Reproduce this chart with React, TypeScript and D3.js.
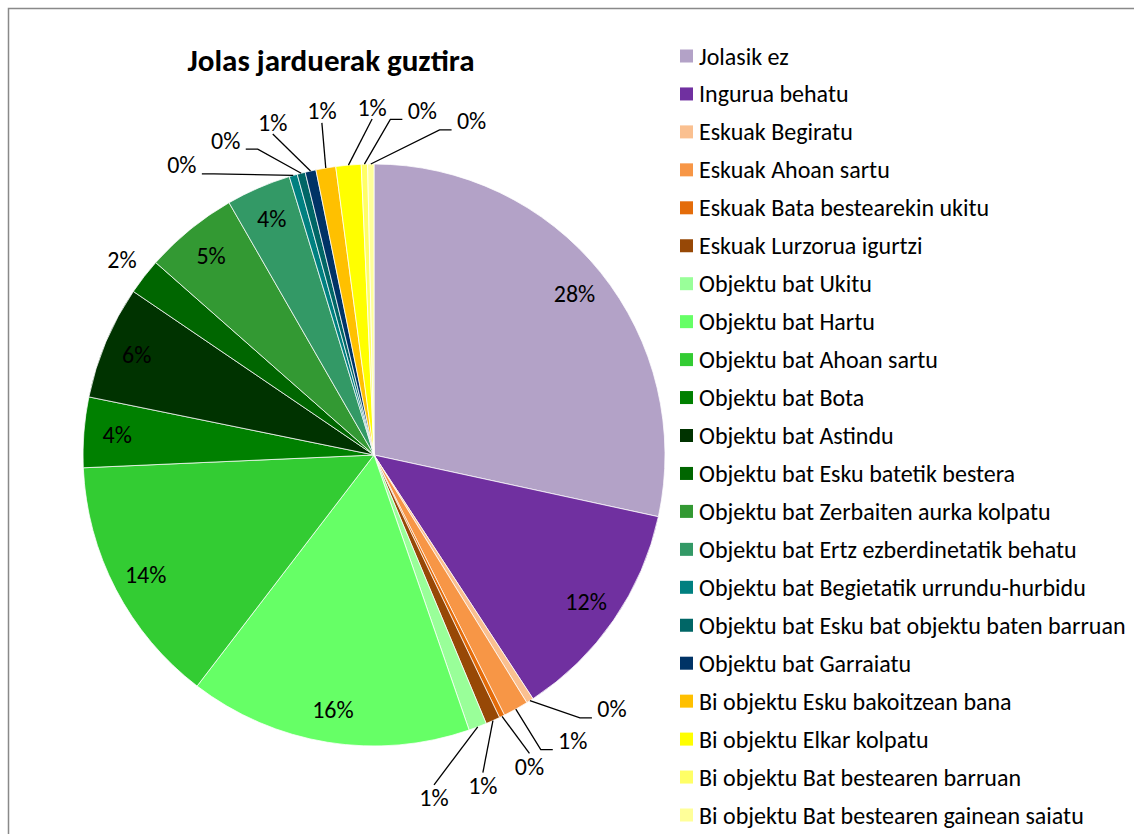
import React, { useEffect, useRef } from 'react'
import * as d3 from 'd3'

const title = 'Jolas jarduerak guztira'

const categories = [
  'Jolasik ez',
  'Ingurua behatu',
  'Eskuak Begiratu',
  'Eskuak Ahoan sartu',
  'Eskuak Bata bestearekin ukitu',
  'Eskuak Lurzorua igurtzi',
  'Objektu bat Ukitu',
  'Objektu bat Hartu',
  'Objektu bat Ahoan sartu',
  'Objektu bat Bota',
  'Objektu bat Astindu',
  'Objektu bat Esku batetik bestera',
  'Objektu bat Zerbaiten aurka kolpatu',
  'Objektu bat Ertz ezberdinetatik behatu',
  'Objektu bat Begietatik urrundu-hurbidu',
  'Objektu bat Esku bat objektu baten barruan',
  'Objektu bat Garraiatu',
  'Bi objektu Esku bakoitzean bana',
  'Bi objektu Elkar kolpatu',
  'Bi objektu Bat bestearen barruan',
  'Bi objektu Bat bestearen gainean saiatu',
]

// share of total, in percent
const values = [
  28.4, 12.4, 0.4, 1.4, 0.3, 0.8, 1.0, 15.7, 13.9, 3.9, 6.3, 2.0, 5.2, 3.6,
  0.45, 0.45, 0.6, 1.1, 1.4, 0.35, 0.35,
]

const colors = [
  '#B3A2C7', '#7030A0', '#FAC090', '#F79646', '#E46C0A', '#974806',
  '#99FF99', '#66FF66', '#33CC33', '#008000', '#003300', '#006600',
  '#339933', '#339966', '#008080', '#006666', '#003366', '#FFC000',
  '#FFFF00', '#FFFF66', '#FFFF99',
]

const font = 'Calibri, Carlito, Lato, sans-serif'

const App = () => {
  const svgRef = useRef<SVGSVGElement>(null)

  const draw = () => {
    const svg = d3.select(svgRef.current)
    svg.selectAll('*').remove()

    const cx = 374
    const cy = 455
    const radius = 291
    const labelSize = 24

    svg
      .append('rect')
      .attr('x', 8.5)
      .attr('y', 8.5)
      .attr('width', 1400)
      .attr('height', 1000)
      .style('fill', 'white')
      .style('stroke', '#898989')
      .style('stroke-width', 1.5)

    svg
      .append('text')
      .attr('x', 331)
      .attr('y', 60)
      .attr('text-anchor', 'middle')
      .attr('dominant-baseline', 'central')
      .style('font', `bold 31px ${font}`)
      .style('fill', '#000')
      .text(title)

    const total = d3.sum(values)
    const pie = d3.pie<number>().sort(null).value((d) => d)
    const arcs = pie(values)
    const arc = d3
      .arc<d3.PieArcDatum<number>>()
      .innerRadius(0)
      .outerRadius(radius)

    const g = svg.append('g').attr('transform', `translate(${cx},${cy})`)

    g.selectAll('path.slice')
      .data(arcs)
      .enter()
      .append('path')
      .attr('class', 'slice')
      .attr('d', arc)
      .style('fill', (d, i) => colors[i])
      .style('stroke', 'white')
      .style('stroke-width', 0.75)

    const pct = (v: number) => Math.round((v / total) * 100) + '%'
    const polar = (a: number, r: number) => [Math.sin(a) * r, -Math.cos(a) * r]

    const label = (x: number, y: number, t: string) =>
      g
        .append('text')
        .attr('x', x)
        .attr('y', y)
        .attr('text-anchor', 'middle')
        .attr('dominant-baseline', 'central')
        .style('font', `${labelSize}px ${font}`)
        .style('fill', '#000')
        .text(t)

    // inside labels
    arcs
      .filter((d) => d.value / total >= 0.03)
      .forEach((d) => {
        const mid = (d.startAngle + d.endAngle) / 2
        const [x, y] = polar(mid, radius * 0.885)
        label(x, y, pct(d.value))
      })

    // outside labels, grouped into clusters of neighbouring small slices
    const outside = arcs
      .filter((d) => d.value / total < 0.03)
      .map((d) => ({ d, mid: (d.startAngle + d.endAngle) / 2, a: 0 }))
      .sort((p, q) => p.mid - q.mid)

    const clusters: (typeof outside)[] = []
    outside.forEach((o, k) => {
      if (k > 0 && o.mid - outside[k - 1].mid < (12 * Math.PI) / 180) {
        clusters[clusters.length - 1].push(o)
      } else {
        clusters.push([o])
      }
    })

    const minSep = (8.3 * Math.PI) / 180
    clusters.forEach((cl) => {
      cl.forEach((o) => (o.a = o.mid))
      if (cl.length === 1) {
        const o = cl[0]
        const [x, y] = polar(o.mid, radius + 28)
        label(x, y, pct(o.d.value))
        return
      }
      for (let it = 0; it < 400; it++) {
        for (let k = 0; k < cl.length - 1; k++) {
          const gap = cl[k + 1].a - cl[k].a
          if (gap < minSep) {
            const dd = (minSep - gap) / 2
            cl[k].a -= dd
            cl[k + 1].a += dd
          }
        }
      }
      cl.forEach((o) => {
        const [lx, ly] = polar(o.a, radius + 57)
        const [px, py] = polar(o.mid, radius)
        const w = 36
        let pts: number[][]
        if (Math.abs(py - ly) > Math.abs(px - lx)) {
          const ey = py < ly ? ly - 13 : ly + 12
          pts = [[lx, ey], [px, py]]
        } else if (lx < px) {
          const ax = lx + w / 2 + 2
          pts = [[ax, ly + 9], [ax + 12, ly + 9], [px, py]]
        } else {
          const ax = lx - w / 2 - 2
          pts = [[ax, ly + 9], [ax - 12, ly + 9], [px, py]]
        }
        g.append('path')
          .attr('d', d3.line()(pts as [number, number][]))
          .style('fill', 'none')
          .style('stroke', '#000')
          .style('stroke-width', 1.3)
        label(lx, ly, pct(o.d.value))
      })
    })

    // legend
    const legend = svg.append('g')
    categories.forEach((c, i) => {
      const y = 56 + i * 37.95
      legend
        .append('rect')
        .attr('x', 680)
        .attr('y', y - 6.5)
        .attr('width', 13)
        .attr('height', 13)
        .style('fill', colors[i])
      legend
        .append('text')
        .attr('x', 699)
        .attr('y', y)
        .attr('dominant-baseline', 'central')
        .style('font', `24px ${font}`)
        .style('fill', '#000')
        .text(c)
    })
  }

  useEffect(() => {
    draw()
  }, [])

  return (
    <svg
      ref={svgRef}
      width={1134}
      height={834}
      style={{ position: 'fixed', left: 0, top: 0 }}
    ></svg>
  )
}

export default App
